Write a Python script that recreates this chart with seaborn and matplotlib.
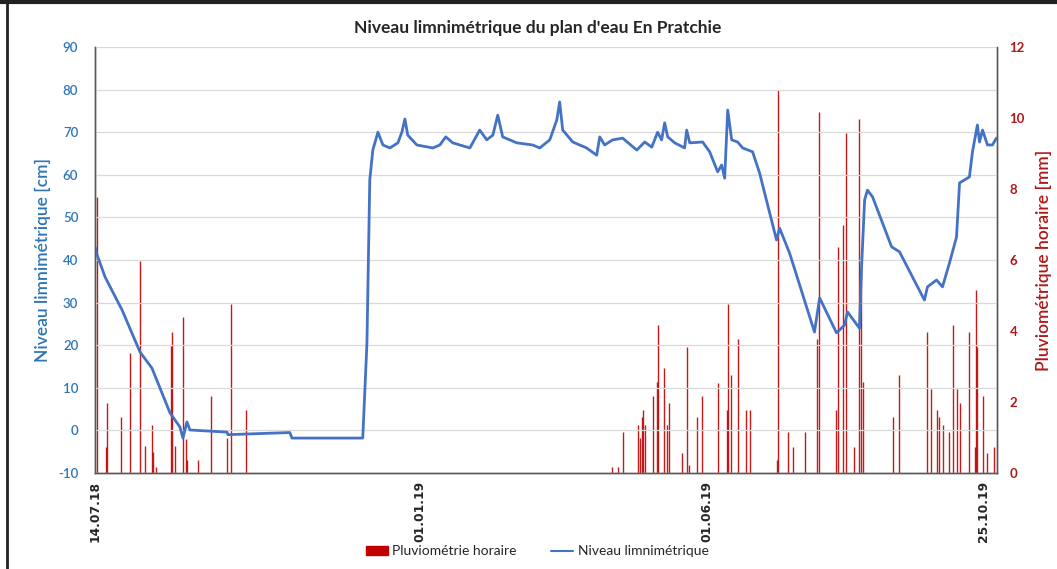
import pandas as pd
import matplotlib
matplotlib.use("Agg")
import matplotlib.pyplot as plt
import matplotlib.dates as mdates
from matplotlib.patches import Patch
from matplotlib.lines import Line2D
import seaborn as sns

# data (days since 14.07.2018)

start = pd.Timestamp("2018-07-14")

level_day = [0, 1.1, 5.3, 14.2, 23.7, 30, 39.5, 44.7, 46.3, 48.4, 50, 69.5, 70, 102.6, 103.7, 141,
             143.2, 144.7, 146.3, 149, 151.6, 155.3, 159.5, 161.6, 163.2, 164.7, 169.5, 177.9, 181.6,
             184.7, 188.4, 197.4, 202.6, 206.3, 209.5, 212.1, 214.7, 222.1, 230.5, 234.2, 239.5, 243.2,
             244.7, 246.3, 251.6, 258.9, 264.2, 265.8, 268.4, 272.6, 277.9, 285.3, 289.5, 293.2, 296.3,
             298.4, 300, 301.6, 305.3, 310.5, 311.6, 313.2, 320, 323.7, 327.9, 330, 331.6, 333.2, 335.3,
             338.4, 341.1, 346.3, 350, 358.9, 360.5, 365.8, 378.9, 381.6, 390.5, 394.7, 396.3, 402.6,
             403.7, 405.3, 406.8, 409.5, 419.5, 423.7, 436.8, 438.4, 443.2, 446.3, 450, 453.7, 455.3,
             460.5, 462.1, 464.7, 465.8, 467.4, 470, 472.6, 474.7]
level_cm = [43, 41.2, 36, 28.3, 18.4, 14.6, 4.1, 0.8, -1.8, 2, 0.1, -0.4, -1, -0.5, -1.8, -1.8,
            20.5, 58.8, 65.8, 70, 67, 66.3, 67.5, 70, 73.1, 69.3, 67, 66.3, 67,
            68.9, 67.5, 66.3, 70.5, 68.2, 69.3, 74, 68.9, 67.5, 67, 66.3, 68.2, 72.9,
            77.1, 70.5, 67.7, 66.3, 64.6, 68.9, 67, 68.2, 68.6, 65.8, 67.7, 66.5, 70,
            68.2, 72.2, 68.9, 67.5, 66.3, 70.5, 67.5, 67.7, 65.4, 60.7, 62.3, 59.2, 75.2, 68.2,
            67.7, 66.3, 65.4, 60.4, 44.7, 47.5, 41.6, 23.1, 31.1, 22.9, 24.7, 27.8, 24.0,
            38.4, 54.1, 56.4, 54.8, 43.1, 41.9, 30.6, 33.7, 35.3, 33.7, 39.3, 45.4, 58.1,
            59.5, 65.4, 71.7, 67.7, 70.5, 67, 67, 68.6]

rain_day = [1.05, 5.8, 6.3, 13.7, 18.4, 23.7, 26.3, 30, 30.5, 32.1, 40, 40.5, 42.1, 46.3, 47.9, 48.4,
            54.2, 61.1, 69.5, 71.6, 79.5,
            272.1, 275.3, 277.9, 285.8, 286.8, 287.9, 288.4, 289.5, 293.7, 295.8, 296.3, 299.5, 301.1,
            302.1, 308.9, 311.6, 312.6, 316.8, 319.5, 327.9, 332.6, 333.2, 334.7, 338.4, 342.6, 344.7,
            358.9, 359.5, 364.7, 367.4, 373.7, 380, 381.1, 390, 391.1, 393.7, 395.3, 399.5, 402.6,
            403.2, 404.2, 420.5, 423.2, 437.9, 440, 443.2, 444.7, 446.8, 449.5, 451.6, 454.2, 455.3,
            460.5, 463.2, 464.2, 464.7, 467.4, 470, 473.2]
rain_mm = [7.77, 0.73, 1.97, 1.58, 3.38, 5.97, 0.76, 1.35, 0.6, 0.17, 3.58, 3.97, 0.76, 4.4, 0.96, 0.37,
           0.37, 2.17, 1.0, 4.76, 1.77,
           0.17, 0.17, 1.15, 1.35, 0.99, 1.58, 1.77, 1.35, 2.17, 2.56, 4.17, 2.96, 1.35,
           1.97, 0.56, 3.55, 0.23, 1.58, 2.17, 2.54, 1.77, 4.76, 2.76, 3.77, 1.77, 1.77,
           0.37, 10.79, 1.15, 0.73, 1.15, 3.77, 10.17, 1.77, 6.37, 7.0, 9.58, 0.73, 9.97,
           5.77, 2.56, 1.58, 2.76, 3.97, 2.37, 1.77, 1.58, 1.35, 1.15, 4.17, 2.37, 1.97,
           3.97, 0.73, 5.15, 3.55, 2.17, 0.56, 0.73]

tick_dates = ["2018-07-14", "2019-01-01", "2019-06-01", "2019-10-25"]
left_ticks = list(range(-10, 91, 10))
right_ticks = list(range(0, 13, 2))

level = pd.DataFrame({"date": start + pd.to_timedelta(level_day, unit="D"), "level": level_cm})
rain = pd.DataFrame({"date": start + pd.to_timedelta(rain_day, unit="D"), "mm": rain_mm})

blue = "#4472C4"
blue_txt = "#2E75B6"
red = "#C00000"
red_txt = "#B01818"

sns.set_style("white")
plt.rcParams["font.family"] = ["Lato", "DejaVu Sans"]

fig = plt.figure(figsize=(10.57, 5.69), dpi=100)
ax = fig.add_axes([0.0899, 0.1687, 0.8533, 0.7487])
ax2 = ax.twinx()

# rain on the right axis, drawn under the level line

ax2.vlines(rain["date"], 0, rain["mm"], color=red, linewidth=1.0, alpha=0.9)
ax2.set_ylim(0, 12)
ax2.set_yticks(right_ticks, labels=[str(t) for t in right_ticks], fontweight="bold", fontsize=9.5)
ax2.tick_params(axis="y", colors=red_txt, length=0, pad=9)
ax2.set_ylabel("Pluviométrique horaire [mm]", color=red_txt, fontsize=12.5, labelpad=8,
               fontweight="semibold")

# level on the left axis

ax.set_zorder(ax2.get_zorder() + 1)
ax.patch.set_visible(False)
sns.lineplot(data=level, x="date", y="level", ax=ax, color=blue, linewidth=2.0)
ax.set_ylim(-10, 90)
ax.set_yticks(left_ticks, labels=[str(t) for t in left_ticks], fontweight="semibold", fontsize=9.5)
ax.yaxis.grid(True, color="#D9D9D9", linewidth=0.9)
ax.tick_params(axis="y", colors=blue_txt, length=0, pad=12)
ax.set_ylabel("Niveau limnimétrique [cm]", color=blue_txt, fontsize=12.5, labelpad=5,
              fontweight="semibold")

ax.set_xlim(start, start + pd.Timedelta(days=475))
ax.set_xticks(pd.to_datetime(tick_dates))
ax.xaxis.set_major_formatter(mdates.DateFormatter("%d.%m.%y"))
ax.tick_params(axis="x", length=0, pad=6)
for lab in ax.get_xticklabels():
    lab.set_rotation(90)
    lab.set_fontweight("bold")
    lab.set_fontsize(8.8)
    lab.set_family("DejaVu Sans")
ax.set_xlabel("")

for a in (ax, ax2):
    a.spines["top"].set_visible(False)
    for s in ("left", "right", "bottom"):
        a.spines[s].set_color("#595959")
        a.spines[s].set_linewidth(1.0)

fig.text(0.509, 0.95, "Niveau limnimétrique du plan d'eau En Pratchie", ha="center", va="center",
         fontsize=12.5, fontweight="bold", color="#262626")

handles = [Patch(facecolor=red, edgecolor=red), Line2D([0], [0], color=blue, linewidth=1.5)]
fig.legend(handles, ["Pluviométrie horaire", "Niveau limnimétrique"], loc="center",
           bbox_to_anchor=(0.508, 0.031), ncol=2, frameon=False, fontsize=10,
           handlelength=1.6, handleheight=0.6, handletextpad=0.3, columnspacing=2.5)

# frame of the screenshot

fig.add_artist(Line2D([0, 1], [0.996, 0.996], color="#222222", linewidth=3, transform=fig.transFigure))
fig.add_artist(Line2D([0.007, 0.007], [0, 1], color="#222222", linewidth=2, transform=fig.transFigure))

fig.savefig("out.png", dpi=100)
